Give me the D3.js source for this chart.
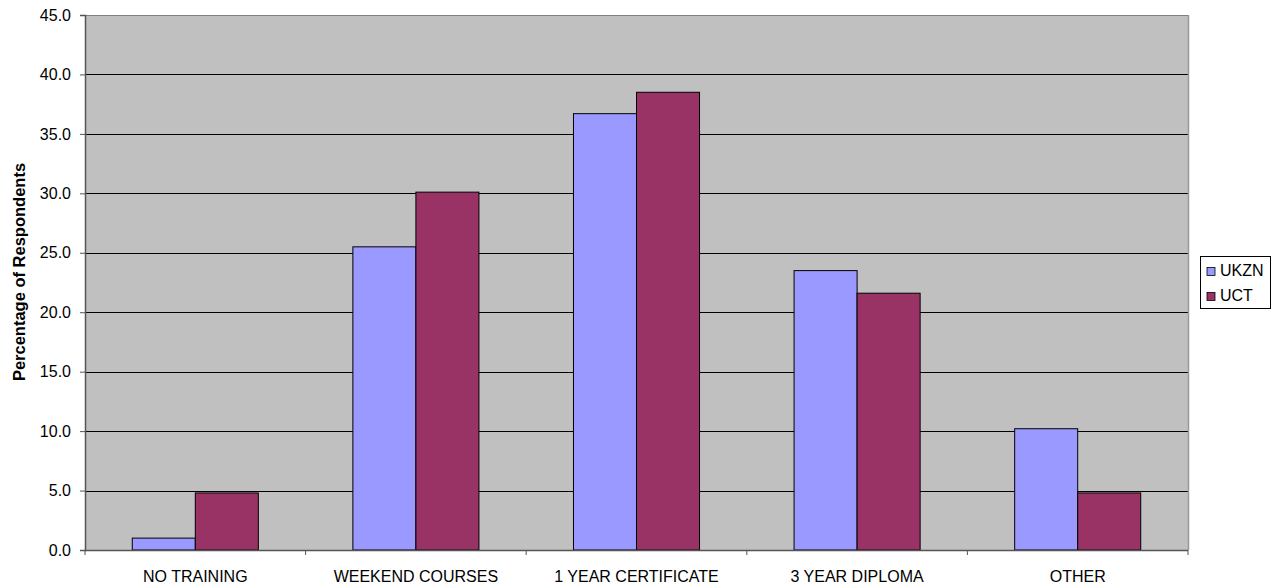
<!DOCTYPE html>
<html><head><meta charset="utf-8">
<script src="https://cdn.jsdelivr.net/npm/d3@7"></script>
<style>body{margin:0;background:#fff;} text{font-family:"Liberation Sans",Arial,sans-serif;}</style>
</head><body>
<svg id="c" width="1280" height="586"></svg>
<script>
const categories = ["NO TRAINING","WEEKEND COURSES","1 YEAR CERTIFICATE","3 YEAR DIPLOMA","OTHER"];
const seriesNames = ["UKZN","UCT"];
const ukzn = [1.0, 25.5, 36.7, 23.5, 10.2];
const uct = [4.8, 30.1, 38.5, 21.6, 4.8];
const yTicks = [0,5,10,15,20,25,30,35,40,45];
const colors = ["#9999FF","#993366"];
const yTitle = "Percentage of Respondents";

const svg = d3.select("#c");
const L=85, R=1188, T=15, B=550;
const x = d3.scaleBand().domain(categories).range([L,R]).padding(0);
const gw = x.step()*2/3.5;
const xs = d3.scaleBand().domain(seriesNames).range([(x.step()-gw)/2,(x.step()+gw)/2]);
const y = d3.scaleLinear().domain([0,45]).range([B,T]);

svg.append("rect").attr("x",L).attr("y",T).attr("width",R-L).attr("height",B-T).attr("fill","#C0C0C0");
svg.append("g").selectAll("line").data(yTicks.filter(d=>d>0&&d<45)).join("line")
  .attr("x1",L).attr("x2",R).attr("y1",d=>Math.round(y(d))+0.5).attr("y2",d=>Math.round(y(d))+0.5)
  .attr("stroke","#000").attr("stroke-width",1);
svg.append("line").attr("x1",L).attr("x2",R).attr("y1",T+0.5).attr("y2",T+0.5).attr("stroke","#808080");
svg.append("line").attr("x1",R+0.5).attr("x2",R+0.5).attr("y1",T).attr("y2",B).attr("stroke","#999").attr("stroke-width",1.5);

const data = [ukzn, uct];
const g = svg.append("g");
categories.forEach((c,i)=>{
  seriesNames.forEach((s,j)=>{
    const v = data[j][i];
    g.append("rect").attr("x",x(c)+xs(s)).attr("y",y(v)).attr("width",xs.bandwidth()).attr("height",y(0)-y(v))
      .attr("fill",colors[j]).attr("stroke","#000").attr("stroke-width",1);
  });
});

const yAxis = d3.axisLeft(y).tickValues(yTicks).tickFormat(d3.format(".1f")).tickSize(5).tickPadding(9);
const ya = svg.append("g").attr("transform",`translate(${L},0)`).call(yAxis);
ya.select(".domain").attr("stroke","#555").attr("stroke-width",1.5);
ya.selectAll(".tick line").attr("stroke","#555");
ya.selectAll("text").attr("font-size",16).attr("fill","#000").attr("font-family","Liberation Sans, Arial, sans-serif");

const xa = svg.append("g").attr("transform",`translate(0,${B})`);
xa.append("line").attr("x1",L).attr("x2",R).attr("y1",0.5).attr("y2",0.5).attr("stroke","#555").attr("stroke-width",1.5);
const bounds = d3.range(categories.length+1).map(i=>L+i*x.step());
xa.selectAll(".xt").data(bounds).join("line").attr("class","xt")
  .attr("x1",d=>d).attr("x2",d=>d).attr("y1",0).attr("y2",5).attr("stroke","#555");
xa.selectAll(".xl").data(categories).join("text").attr("class","xl")
  .attr("x",d=>x(d)+x.bandwidth()/2).attr("y",31.5).attr("text-anchor","middle")
  .attr("font-size",16).attr("fill","#000").text(d=>d);

svg.append("text").attr("transform",`translate(24.5,272) rotate(-90)`).attr("text-anchor","middle")
  .attr("font-size",16.5).attr("font-weight","bold").text(yTitle);

const lg = svg.append("g");
lg.append("rect").attr("x",1200.5).attr("y",256.5).attr("width",70).attr("height",52).attr("fill","#fff").attr("stroke","#000");
seriesNames.forEach((s,j)=>{
  const yy = 271.5 + j*25;
  lg.append("rect").attr("x",1207).attr("y",yy-4).attr("width",8).attr("height",8).attr("fill",colors[j]).attr("stroke","#000").attr("stroke-width",0.8);
  lg.append("text").attr("x",1220).attr("y",yy+4.5).attr("font-size",16).text(s);
});
</script>
</body></html>
